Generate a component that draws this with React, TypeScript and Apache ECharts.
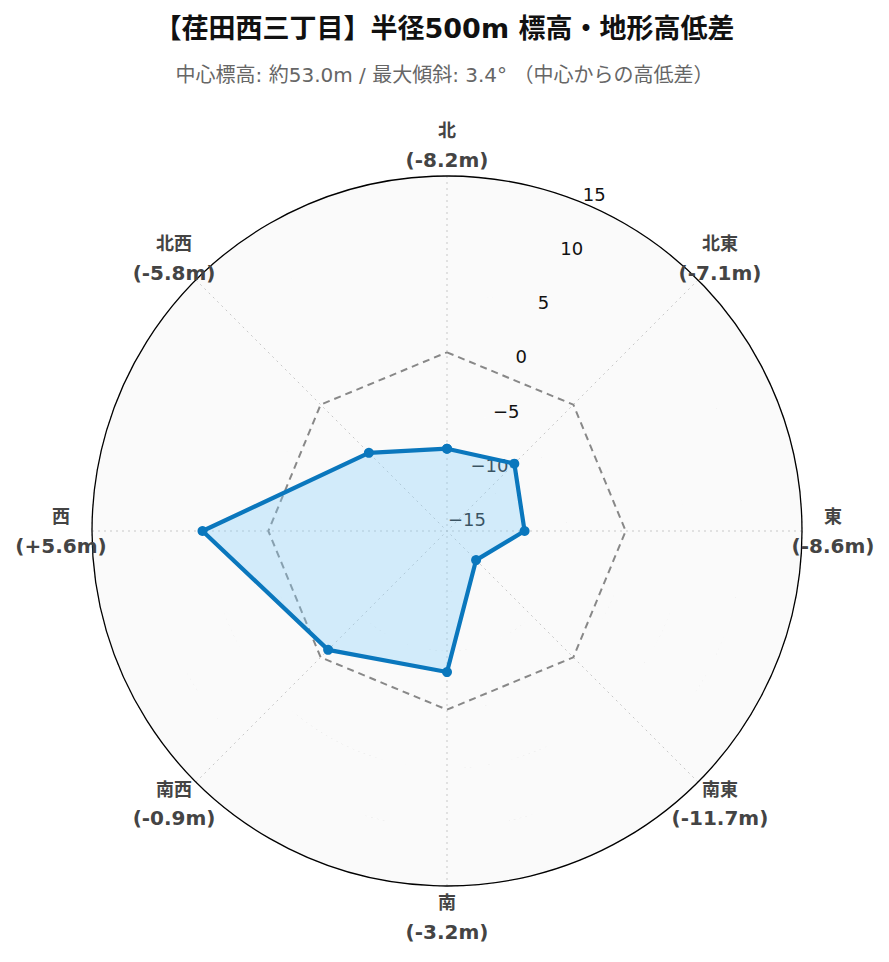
import React, { useEffect, useRef } from "react";
import * as echarts from "echarts";

const titleText = "【荏田西三丁目】半径500m 標高・地形高低差";
const subtitleText = "中心標高: 約53.0m / 最大傾斜: 3.4° （中心からの高低差）";

const directions = ["北", "北東", "東", "南東", "南", "南西", "西", "北西"];
const elevationDiffs = [-8.2, -7.1, -8.6, -11.7, -3.2, -0.9, 5.6, -5.8];
const referenceLevels = [0, 0, 0, 0, 0, 0, 0, 0];
const radialMin = -15.2;
const radialMax = 15;

const FONT = "'DejaVu Sans', 'Noto Sans CJK JP', sans-serif";
const CENTER = [447, 531];
const RADIUS = 355;
const LABEL_GAP = 31;

function fmtDiff(v: number) {
  return `(${v > 0 ? "+" : ""}${v.toFixed(1)}m)`;
}

export default function App() {
  const ref = useRef<HTMLDivElement>(null);
  useEffect(() => {
    if (!ref.current) return;
    const chart = echarts.init(ref.current, null, { renderer: "svg" });
    const step = 360 / directions.length;
    const closed = (arr: number[]) => {
      const d = arr.map((v, i) => [v, i * step]);
      d.push([arr[0], 360]);
      return d;
    };
    const unitsPerPx = (radialMax - radialMin) / RADIUS;
    const labelR = radialMax + LABEL_GAP * unitsPerPx;
    const option: any = {
      animation: false,
      backgroundColor: "#ffffff",
      textStyle: { fontFamily: FONT },
      title: [
        {
          text: titleText,
          left: "center",
          top: 7,
          textStyle: { fontFamily: FONT, fontSize: 27, fontWeight: "bold", color: "#111", lineHeight: 32 },
        },
        {
          text: subtitleText,
          left: "center",
          top: 58,
          textStyle: { fontFamily: FONT, fontSize: 20, fontWeight: "normal", color: "#666", lineHeight: 24 },
        },
      ],
      polar: [
        { center: CENTER, radius: RADIUS },
        { center: CENTER, radius: RADIUS },
      ],
      angleAxis: [
        {
          polarIndex: 0,
          type: "value",
          min: 0,
          max: 360,
          interval: step,
          startAngle: 90,
          clockwise: true,
          axisLine: { show: false },
          axisTick: { show: false },
          axisLabel: { show: false },
          splitLine: { show: true, lineStyle: { color: "#c8c8c8", type: [2, 4], width: 1 } },
        },
        {
          polarIndex: 1,
          type: "value",
          min: 0,
          max: 360,
          startAngle: 67.5,
          clockwise: true,
          axisLine: { show: true, lineStyle: { color: "#000", width: 1.3 } },
          axisTick: { show: false },
          axisLabel: { show: false },
          splitLine: { show: false },
        },
      ],
      radiusAxis: [
        {
          polarIndex: 0,
          type: "value",
          min: radialMin,
          max: radialMax,
          splitNumber: 6,
          axisLine: { show: false },
          axisTick: { show: false },
          axisLabel: { show: false },
          splitLine: { show: true, lineStyle: { color: "#d0d0d0", type: [2, 4], width: 1.2 } },
          splitArea: { show: true, areaStyle: { color: ["#fafafa"] } },
        },
        {
          polarIndex: 1,
          type: "value",
          min: radialMin,
          max: radialMax,
          splitNumber: 6,
          axisLine: { show: false },
          axisTick: { show: false },
          splitLine: { show: false },
          splitArea: { show: false },
          axisLabel: {
            show: true,
            showMinLabel: false,
            showMaxLabel: true,
            margin: 0,
            align: "left",
            verticalAlign: "bottom",
            fontFamily: FONT,
            fontSize: 18,
            color: "#111",
            formatter: (v: number) => (v < 0 ? `\u2212${Math.abs(v)}` : `${v}`),
          },
        },
      ],
      series: [
        {
          name: "基準",
          type: "line",
          coordinateSystem: "polar",
          polarIndex: 0,
          clip: false,
          data: closed(referenceLevels),
          symbol: "none",
          lineStyle: { color: "#888888", width: 2, type: [7, 5] },
          z: 3,
        },
        {
          name: "高低差",
          type: "line",
          coordinateSystem: "polar",
          polarIndex: 0,
          clip: false,
          data: closed(elevationDiffs),
          symbol: "circle",
          symbolSize: 10,
          itemStyle: { color: "#0a77bd" },
          lineStyle: { color: "#0a77bd", width: 4.2 },
          areaStyle: { color: "rgba(135,206,250,0.35)", opacity: 1, origin: "start" },
          z: 4,
        },
        {
          name: "方位ラベル",
          type: "scatter",
          coordinateSystem: "polar",
          polarIndex: 0,
          clip: false,
          silent: true,
          symbolSize: 0,
          itemStyle: { color: "#444", opacity: 1 },
          data: directions.map((d, i) => [labelR, i * step]),
          label: {
            show: true,
            position: "inside",
            align: "center",
            verticalAlign: "middle",
            color: "#444",
            opacity: 1,
            textBorderWidth: 0,
            textBorderColor: "transparent",
            formatter: (p: any) =>
              `{d|${directions[p.dataIndex]}}\n{v|${fmtDiff(elevationDiffs[p.dataIndex])}}`,
            rich: {
              d: { fontFamily: FONT, fontSize: 18, fontWeight: "bold", color: "#444", lineHeight: 29, align: "center", textBorderWidth: 0 },
              v: { fontFamily: FONT, fontSize: 20, fontWeight: "bold", color: "#444", lineHeight: 29, align: "center", textBorderWidth: 0 },
            },
          },
          z: 5,
        },
      ],
    };
    chart.setOption(option);
    return () => chart.dispose();
  }, []);
  return (
    <div
      ref={ref}
      style={{ position: "absolute", left: 0, top: 0, width: 889, height: 962 }}
    />
  );
}
